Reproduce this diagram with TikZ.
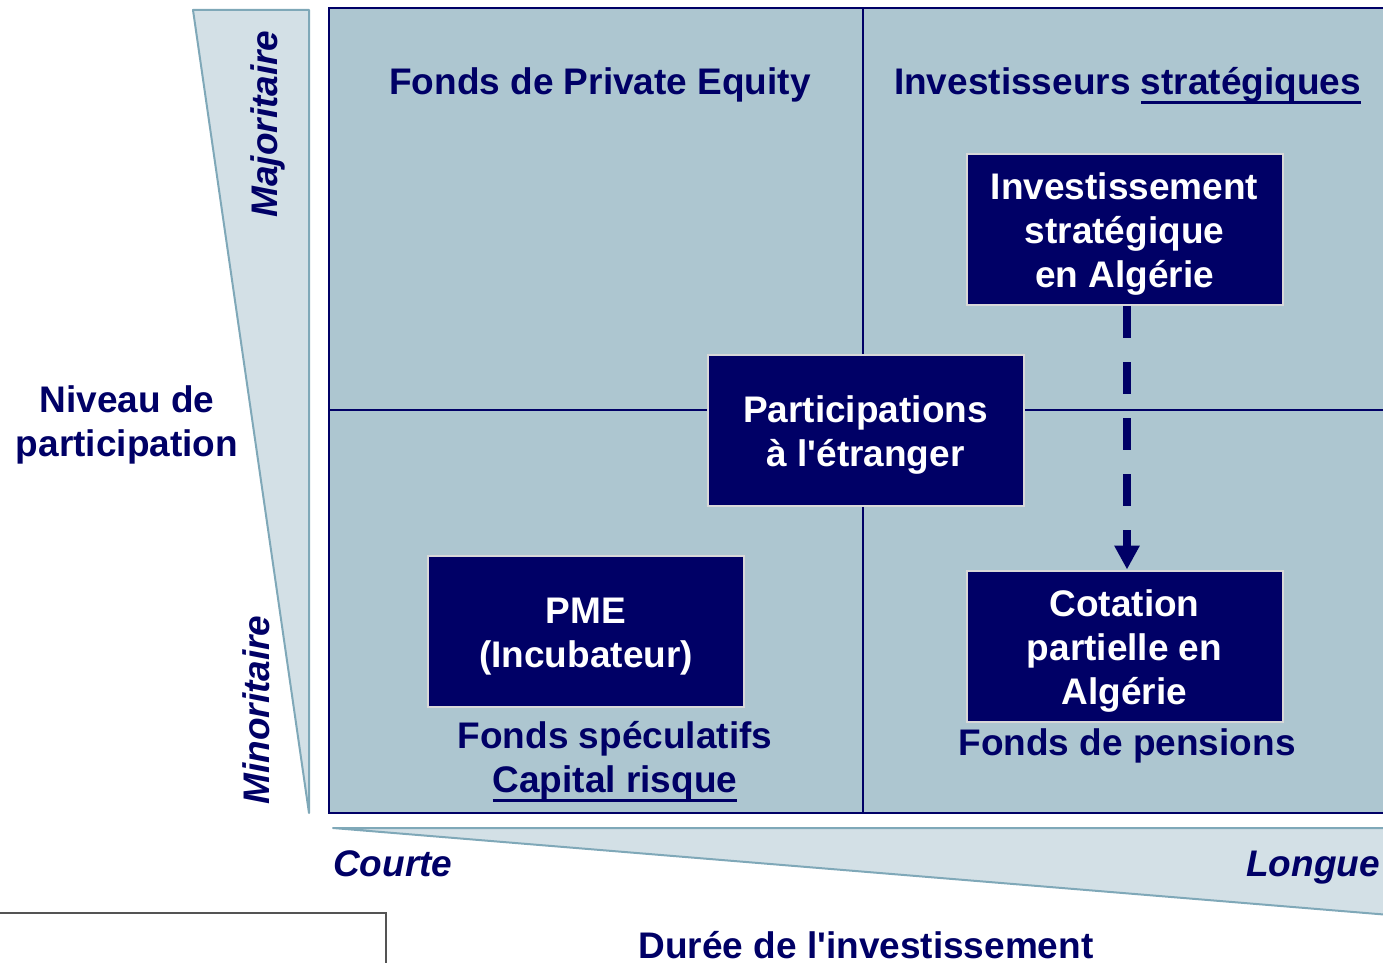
\documentclass[tikz,border=0pt]{standalone}
\usepackage{fontspec}
\setmainfont{Liberation Sans}[Ligatures=TeXOff]
\newsavebox{\ulbox}
\newcommand\ulx[1]{\sbox{\ulbox}{#1}\rlap{\rule[-9.5pt]{\wd\ulbox}{3pt}}\usebox{\ulbox}}
\usetikzlibrary{arrows.meta}
\definecolor{navy}{HTML}{000066}
\definecolor{quad}{HTML}{ADC6D0}
\definecolor{tri}{HTML}{D3E0E6}
\definecolor{triedge}{HTML}{7FA8B8}
\definecolor{boxedge}{HTML}{D8D8D8}
\tikzset{
  big/.style={font=\fontsize{37}{44}\selectfont\bfseries, text=navy, inner sep=0pt},
  bigit/.style={font=\fontsize{37}{44}\selectfont\bfseries\itshape, text=navy, inner sep=0pt},
  darkbox/.style={draw=boxedge, line width=2pt, fill=navy,
    minimum width=316pt, minimum height=151pt, inner sep=0pt},
  boxtext/.style={text=white, font=\fontsize{37}{44}\selectfont\bfseries,
    align=center, inner sep=0pt, yshift=-5pt},
  triangle/.style={fill=tri, draw=triedge, line width=2pt, line join=round},
  divider/.style={draw=navy, line width=1.3pt},
}
\begin{document}
\begin{tikzpicture}[x=1pt,y=-1pt]
\useasboundingbox (0,0) rectangle (1383,963);
% axis triangles
\draw[triangle] (193,10) -- (309,10) -- (309,813) -- cycle;
\draw[triangle] (333,828) -- (1390,828) -- (1390,915) -- cycle;
% quadrant area
\fill[quad] (329,8) rectangle (1390,813);
\draw[divider] (1390,8) -- (329,8) -- (329,813) -- (1390,813);
\draw[divider] (863,8) -- (863,813);
\draw[divider] (329,410) -- (1390,410);
% bottom-left frame
\draw[draw=black!67, line width=2pt] (0,913) -- (386,913) -- (386,970);
% quadrant titles
\node[big, anchor=base] (pe) at (600,95) {Fonds de Private Equity};
\node[big, anchor=base] (is) at (1127.5,95) {Investisseurs \ulx{stratégiques}};
% boxes
\node[darkbox] (inv) at (1124.5,229.5) {};
\node[boxtext] (invt) at (inv.center) {Investissement\\stratégique\\en Algérie};
\node[darkbox] (part) at (865.5,430.5) {};
\node[boxtext] (partt) at (part.center) {Participations\\à l'étranger};
\node[darkbox] (pme) at (586,631.5) {};
\node[boxtext] (pmet) at (pme.center) {PME\\(Incubateur)};
\node[darkbox] (cot) at (1124.5,646) {};
\node[boxtext] (cott) at (cot.center) {Cotation\\partielle en\\Algérie};
\draw[navy, line width=8pt, dash pattern=on 32pt off 24pt, -{Triangle[width=24pt,length=24pt]}]
  (inv.south -| 1127,0) -- (cot.north -| 1127,0);
% lower texts
\node[big, anchor=base] (fs) at (615,748) {Fonds spéculatifs};
\node[big, anchor=base] (cr) at (615,792) {\ulx{Capital risque}};
\node[big, anchor=base] (fp) at (1127,755) {Fonds de pensions};
% axis labels
\node[big, align=center] (niv) at (127,425) {Niveau de\\participation};
\node[bigit, anchor=base, rotate=90] (maj) at (277,124) {Majoritaire};
\node[bigit, anchor=base, rotate=90] (min) at (269,710) {Minoritaire};
\node[bigit, anchor=base west] (court) at (333,876) {Courte};
\node[bigit, anchor=base east] (long) at (1380,876) {Longue};
\node[big, anchor=base] (dur) at (866,958) {Durée de l'investissement};
\end{tikzpicture}
\end{document}
